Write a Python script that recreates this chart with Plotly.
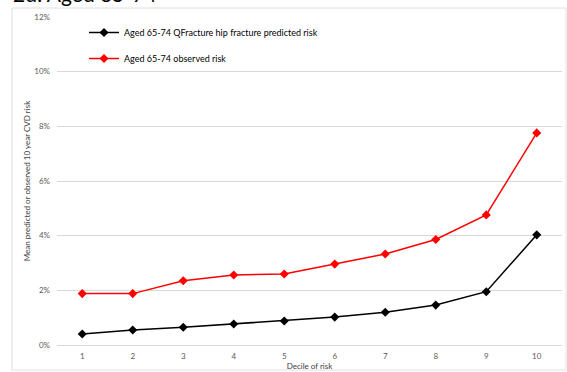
import plotly.graph_objects as go

deciles = [1, 2, 3, 4, 5, 6, 7, 8, 9, 10]
predicted = [0.40, 0.55, 0.65, 0.77, 0.88, 1.02, 1.20, 1.46, 1.95, 4.03]
observed = [1.88, 1.88, 2.35, 2.56, 2.60, 2.96, 3.33, 3.86, 4.76, 7.76]
y_ticks = [0, 2, 4, 6, 8, 10, 12]
y_tick_labels = ["0%", "2%", "4%", "6%", "8%", "10%", "12%"]

L, R, T, B = 57, 5, 17, 27
W, H = 567, 372
pw, ph = W - L - R, H - T - B

def px(x):
    return (x - L) / pw

def py(y):
    return (H - B - y) / ph

fig = go.Figure()
fig.add_trace(go.Scatter(
    x=deciles, y=predicted, mode="lines+markers",
    name="Aged 65-74 QFracture hip fracture predicted risk",
    line=dict(color="#000000", width=1.5),
    marker=dict(symbol="diamond", size=7, color="#000000"),
    legendgroup="a",
))
fig.add_trace(go.Scatter(
    x=deciles, y=observed, mode="lines+markers",
    name="Aged 65-74 observed risk",
    line=dict(color="#ff0000", width=1.5),
    marker=dict(symbol="diamond", size=7, color="#ff0000"),
    legendgroup="b",
))

fig.update_layout(
    width=W, height=H,
    margin=dict(l=L, r=R, t=T, b=B, pad=0),
    paper_bgcolor="white", plot_bgcolor="white",
    font=dict(family="Lato, Open Sans, sans-serif", color="#595959", size=8),
    showlegend=True,
    legend=dict(
        x=px(84), y=py(18), xanchor="left", yanchor="top",
        bgcolor="rgba(255,255,255,0)",
        font=dict(size=9, color="#000000"),
        itemwidth=30, tracegroupgap=7,
    ),
    xaxis=dict(
        range=[0.5, 10.5], tickvals=deciles, showgrid=False, zeroline=False,
        showline=False, ticks="", tickfont=dict(size=8, color="#595959"),
        ticklabelstandoff=5,
        title=dict(text="Decile of risk", font=dict(size=8, color="#404040"), standoff=0),
        fixedrange=True, automargin=False,
    ),
    yaxis=dict(
        range=[0, 12], tickvals=y_ticks, ticktext=y_tick_labels,
        showgrid=True, gridcolor="#d9d9d9", gridwidth=1, zeroline=True,
        zerolinecolor="#d9d9d9", zerolinewidth=1, showline=False, ticks="",
        ticklabelstandoff=6,
        tickfont=dict(size=8, color="#595959"),
        title=dict(text="Mean predicted or observed 10 year CVD risk",
                   font=dict(size=8, color="#404040"), standoff=2),
        fixedrange=True, automargin=False,
    ),
    shapes=[dict(
        type="rect", xref="paper", yref="paper",
        x0=px(12), x1=px(566), y0=py(370), y1=py(8),
        line=dict(color="#e0e0e0", width=1), fillcolor="rgba(0,0,0,0)",
        layer="below",
    )],
    annotations=[dict(
        text="2d: Aged 65-74", xref="paper", yref="paper",
        x=px(11), y=py(8), xanchor="left", yanchor="bottom",
        showarrow=False, font=dict(size=21, color="#000000", family="Lato, sans-serif"),
    )],
)

fig.write_html(
    "out.html",
    config={"displayModeBar": False, "staticPlot": True},
    post_script="document.body.style.margin='0';document.body.style.overflow='hidden';",
)
